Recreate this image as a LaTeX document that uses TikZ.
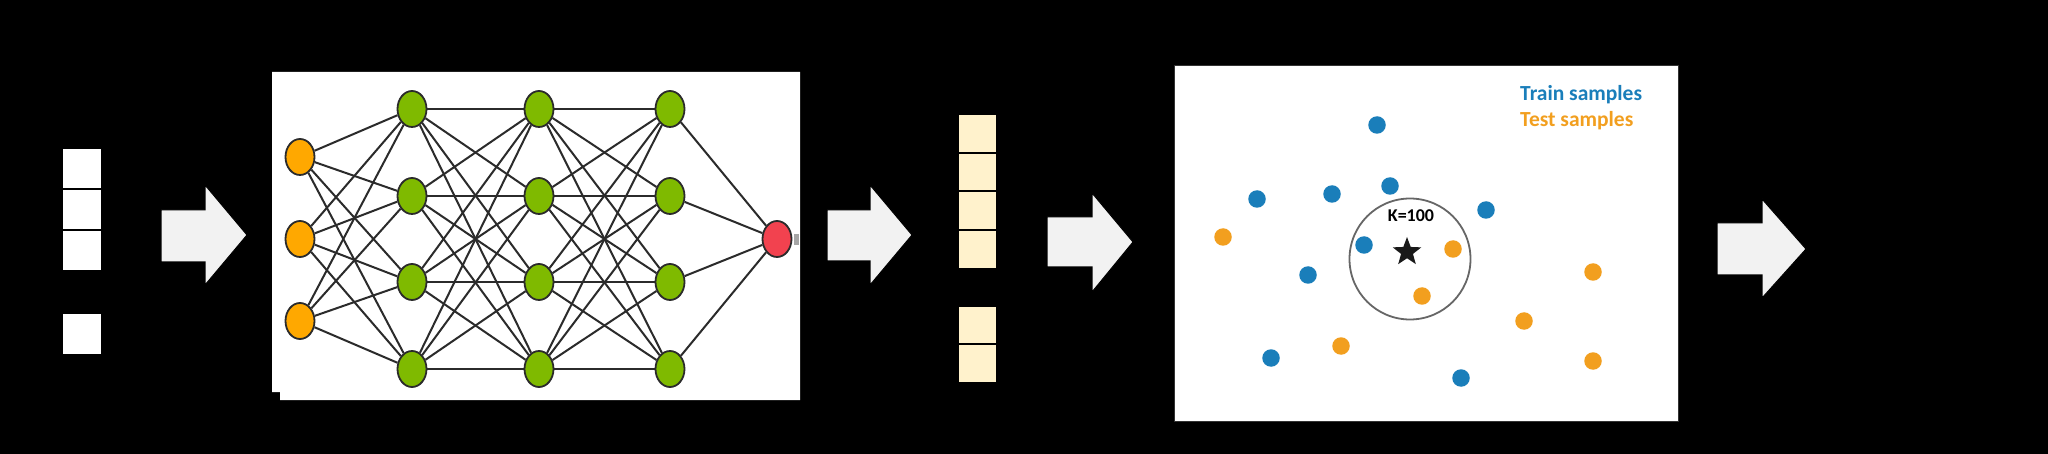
\documentclass[tikz,border=0pt]{standalone}
\usepackage{fontspec}
\setmainfont{Carlito}
\usetikzlibrary{shapes.geometric}
\definecolor{nnorange}{HTML}{FFA800}
\definecolor{nngreen}{HTML}{7FBA00}
\definecolor{nnred}{HTML}{F2424F}
\definecolor{edgegray}{HTML}{2B2B2B}
\definecolor{dotblue}{HTML}{1A7EBA}
\definecolor{dotorange}{HTML}{F29F1F}
\definecolor{cellyellow}{HTML}{FFF2CC}
\definecolor{arrowfill}{HTML}{F2F2F2}
\newcommand\myblockarrow[8]{% x0, xb, xtip, ys1, ys2, yh1, yh2, ytip
  \draw[blockarrow] (#1,#4) -- (#2,#4) -- (#2,#6) -- (#3,#8) -- (#2,#7) -- (#2,#5) -- (#1,#5) -- cycle;}
\begin{document}
\begin{tikzpicture}[x=1pt,y=-1pt,
  neuron/.style={ellipse,draw=edgegray,line width=1.8pt,minimum width=29pt,minimum height=36pt,inner sep=0pt},
  inneuron/.style={neuron,fill=nnorange},
  hidneuron/.style={neuron,fill=nngreen},
  outneuron/.style={neuron,fill=nnred},
  synapse/.style={draw=edgegray,line width=2pt},
  whitecell/.style={rectangle,draw=black,line width=2pt,fill=white,minimum width=40pt,minimum height=41pt,inner sep=0pt},
  yellowcell/.style={rectangle,draw=black,line width=2pt,fill=cellyellow,minimum width=39pt,minimum height=38.5pt,inner sep=0pt},
  blockarrow/.style={draw=black,line width=1pt,fill=arrowfill},
  traindot/.style={circle,fill=dotblue,minimum size=17.5pt,inner sep=0pt},
  testdot/.style={circle,fill=dotorange,minimum size=17.5pt,inner sep=0pt},
  legend/.style={font=\bfseries\fontsize{21.5}{24}\selectfont,anchor=base west,inner sep=0pt}
]
% background and bounding box
\fill[black] (0,0) rectangle (2048,454);
\useasboundingbox (0,0) rectangle (2048,454);

% ---- input vector (white cells)
\node[whitecell] (w1) at (82,169) {};
\node[whitecell] (w2) at (82,209.5) {};
\node[whitecell] (w3) at (82,250.5) {};
\node[whitecell] (w4) at (82,334) {};

% ---- arrow 1
\myblockarrow{161}{205}{247}{210}{262}{185}{285}{235}

% ---- neural network panel
\fill[white] (272,72) -- (800,72) -- (800,400) -- (280,400) -- (280,392) -- (272,392) -- cycle;
\node[inneuron] (i1) at (300,157) {};
\node[inneuron] (i2) at (300,239) {};
\node[inneuron] (i3) at (300,321) {};
\foreach \c/\x in {a/412,b/539,c/670}{
  \node[hidneuron] (\c1) at (\x,109) {};
  \node[hidneuron] (\c2) at (\x,196) {};
  \node[hidneuron] (\c3) at (\x,282) {};
  \node[hidneuron] (\c4) at (\x,369) {};
}
\node[outneuron] (o) at (777,239) {};
\fill[gray!70] (794,234) rectangle (799,245);
\foreach \i in {1,2,3}{\foreach \j in {1,2,3,4}{\draw[synapse] (i\i) -- (a\j);}}
\foreach \i in {1,2,3,4}{\foreach \j in {1,2,3,4}{
  \draw[synapse] (a\i) -- (b\j);
  \draw[synapse] (b\i) -- (c\j);}}
\foreach \j in {1,2,3,4}{\draw[synapse] (c\j) -- (o);}

% ---- arrow 2
\myblockarrow{827}{870}{912}{210}{261}{185}{285}{235}

% ---- embedding vector (yellow cells)
\node[yellowcell] (y1) at (977,133.5) {};
\node[yellowcell] (y2) at (977,172) {};
\node[yellowcell] (y3) at (977,210.5) {};
\node[yellowcell] (y4) at (977,249.5) {};
\node[yellowcell] (y5) at (977,325.5) {};
\node[yellowcell] (y6) at (977,363.5) {};

% ---- arrow 3
\myblockarrow{1047}{1092}{1133}{217}{267}{193}{292}{242}

% ---- kNN panel
\draw[fill=white,draw=black!80,line width=1pt] (1174,66) rectangle (1678,421);
\node[legend,text=dotblue] (lt) at (1520,101) {Train samples};
\node[legend,text=dotorange] (ls) at (1520,127) {Test samples};
\node[circle,draw=black!60,line width=1.8pt,minimum size=121pt,inner sep=0pt] (nbhd) at (1410,259) {};
\node[anchor=base,inner sep=0pt,font=\bfseries\fontsize{18}{20}\selectfont] (k) at (1411,222) {K=100};
\node[star,star points=5,star point ratio=2.4,fill=black!90,minimum size=30pt,inner sep=0pt] (q) at (1407,252) {};
\foreach \n/\x/\y in {t1/1377/125,t2/1257/199,t3/1332/194,t4/1390/186,t5/1486/210,t6/1364/245,t7/1308/275,t8/1271/358,t9/1461/378}{
  \node[traindot] (\n) at (\x,\y) {};}
\foreach \n/\x/\y in {s1/1223/237,s2/1453/249,s3/1422/296,s4/1593/272,s5/1524/321,s6/1341/346,s7/1593/361}{
  \node[testdot] (\n) at (\x,\y) {};}

% ---- arrow 4
\myblockarrow{1717}{1762}{1806}{223}{275}{199}{298}{249}
\end{tikzpicture}
\end{document}
